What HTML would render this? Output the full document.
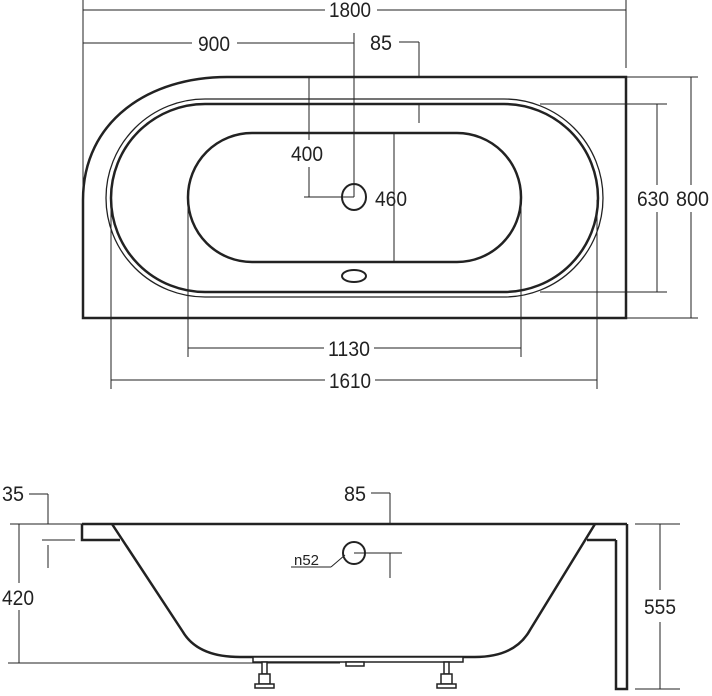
<!DOCTYPE html>
<html><head><style>html,body{margin:0;padding:0;background:#fff}svg{display:block}text{font-family:"Liberation Sans Narrow","Liberation Sans",sans-serif;font-size:21px;fill:#222}</style></head>
<body>
<svg width="712" height="696" viewBox="0 0 712 696" xmlns="http://www.w3.org/2000/svg">
<g fill="none" stroke="#222" stroke-width="1">
<line x1="83" y1="0" x2="83" y2="200"/><line x1="626" y1="0" x2="626" y2="68"/>
<line x1="83" y1="10" x2="325" y2="10"/><line x1="377" y1="10" x2="626" y2="10"/>
<line x1="83" y1="43" x2="192" y2="43"/><line x1="237" y1="43" x2="354" y2="43"/>
<line x1="354" y1="33" x2="354" y2="197"/>
<line x1="399" y1="42" x2="419" y2="42"/><line x1="419" y1="42" x2="419" y2="77"/>
<line x1="419" y1="105" x2="419" y2="123"/>
<line x1="309" y1="78" x2="309" y2="140"/><line x1="309" y1="167" x2="309" y2="197"/>
<line x1="304" y1="197" x2="354" y2="197"/>
<line x1="394" y1="133" x2="394" y2="262"/>
<line x1="540" y1="104" x2="667" y2="104"/><line x1="540" y1="292" x2="667" y2="292"/>
<line x1="657" y1="104" x2="657" y2="185"/><line x1="657" y1="212" x2="657" y2="292"/>
<line x1="626" y1="77" x2="698" y2="77"/><line x1="626" y1="318" x2="698" y2="318"/>
<line x1="691" y1="77" x2="691" y2="185"/><line x1="691" y1="212" x2="691" y2="318"/>
<line x1="188" y1="200" x2="188" y2="357"/><line x1="521" y1="200" x2="521" y2="357"/>
<line x1="188" y1="348" x2="324" y2="348"/><line x1="374" y1="348" x2="521" y2="348"/>
<line x1="111" y1="200" x2="111" y2="389"/><line x1="597" y1="200" x2="597" y2="389"/>
<line x1="111" y1="380" x2="325" y2="380"/><line x1="375" y1="380" x2="597" y2="380"/>
</g>
<g fill="none" stroke="#222">
<path d="M83 318 L83 200 C83 120 150 77 227 77 L626 77 L626 318 Z" stroke-width="2.5"/>
<rect x="106" y="99" width="497" height="198" rx="99" ry="99" stroke-width="1.3"/>
<rect x="111" y="104" width="487" height="188" rx="94" ry="94" stroke-width="2.5"/>
<rect x="188" y="133" width="333" height="129" rx="64" ry="64" stroke-width="2.5"/>
<ellipse cx="354" cy="197" rx="12" ry="13" stroke-width="2"/>
<ellipse cx="354" cy="276" rx="12" ry="6" stroke-width="2"/>
</g>
<text x="329" y="17" textLength="42" lengthAdjust="spacingAndGlyphs">1800</text>
<text x="198" y="51" textLength="32" lengthAdjust="spacingAndGlyphs">900</text>
<text x="370" y="50" textLength="22" lengthAdjust="spacingAndGlyphs">85</text>
<text x="291" y="161" textLength="32" lengthAdjust="spacingAndGlyphs">400</text>
<text x="375" y="206" textLength="32" lengthAdjust="spacingAndGlyphs">460</text>
<text x="637" y="206" textLength="32" lengthAdjust="spacingAndGlyphs">630</text>
<text x="676" y="206" textLength="33" lengthAdjust="spacingAndGlyphs">800</text>
<text x="328" y="356" textLength="42" lengthAdjust="spacingAndGlyphs">1130</text>
<text x="329" y="388" textLength="42" lengthAdjust="spacingAndGlyphs">1610</text>

<g fill="none" stroke="#222" stroke-width="1">
<line x1="29" y1="494" x2="48" y2="494"/><line x1="48" y1="494" x2="48" y2="524"/>
<line x1="10" y1="524" x2="82" y2="524"/>
<line x1="19" y1="524" x2="19" y2="583"/><line x1="19" y1="610" x2="19" y2="663"/>
<line x1="8" y1="663" x2="340" y2="663"/>
<line x1="42" y1="540" x2="75" y2="540"/><line x1="48" y1="545" x2="48" y2="568"/>
<line x1="371" y1="493" x2="390" y2="493"/><line x1="390" y1="493" x2="390" y2="524"/>
<line x1="354" y1="553" x2="402" y2="553"/><line x1="390" y1="553" x2="390" y2="578"/>
<line x1="291" y1="567" x2="331" y2="567"/><line x1="331" y1="567" x2="345" y2="555"/>
<line x1="635" y1="524" x2="680" y2="524"/><line x1="635" y1="689" x2="680" y2="689"/>
<line x1="660" y1="524" x2="660" y2="590"/><line x1="660" y1="622" x2="660" y2="689"/>
</g>
<g fill="none" stroke="#222" stroke-width="2.5">
<line x1="82" y1="524" x2="627" y2="524"/>
<path d="M82 524 L82 540 L120 540"/>
<path d="M112 524 L183 632 Q198 657 240 657 L475 657 Q515 657 530 630 L595 524"/>
<path d="M587 540 L616 540 M627 524 L627 689 L616 689 L616 540"/>
<ellipse cx="354" cy="553" rx="11" ry="11" stroke-width="2"/>
</g>
<g fill="#fff" stroke="#222" stroke-width="1.5">
<rect x="253" y="657" width="210" height="5"/>
<rect x="346" y="662" width="18" height="4"/>
<rect x="262" y="662" width="5" height="12"/><rect x="259" y="674" width="11" height="10"/><rect x="255" y="684" width="19" height="4"/>
<rect x="444" y="662" width="5" height="12"/><rect x="441" y="674" width="11" height="10"/><rect x="437" y="684" width="19" height="4"/>
</g>
<text x="2" y="501" textLength="22" lengthAdjust="spacingAndGlyphs">35</text>
<text x="344" y="501" textLength="22" lengthAdjust="spacingAndGlyphs">85</text>
<text x="294" y="565" style="font-size:15px" textLength="25" lengthAdjust="spacingAndGlyphs">n52</text>
<text x="2" y="605" textLength="32" lengthAdjust="spacingAndGlyphs">420</text>
<text x="644" y="614" textLength="32" lengthAdjust="spacingAndGlyphs">555</text>
</svg>
</body></html>
